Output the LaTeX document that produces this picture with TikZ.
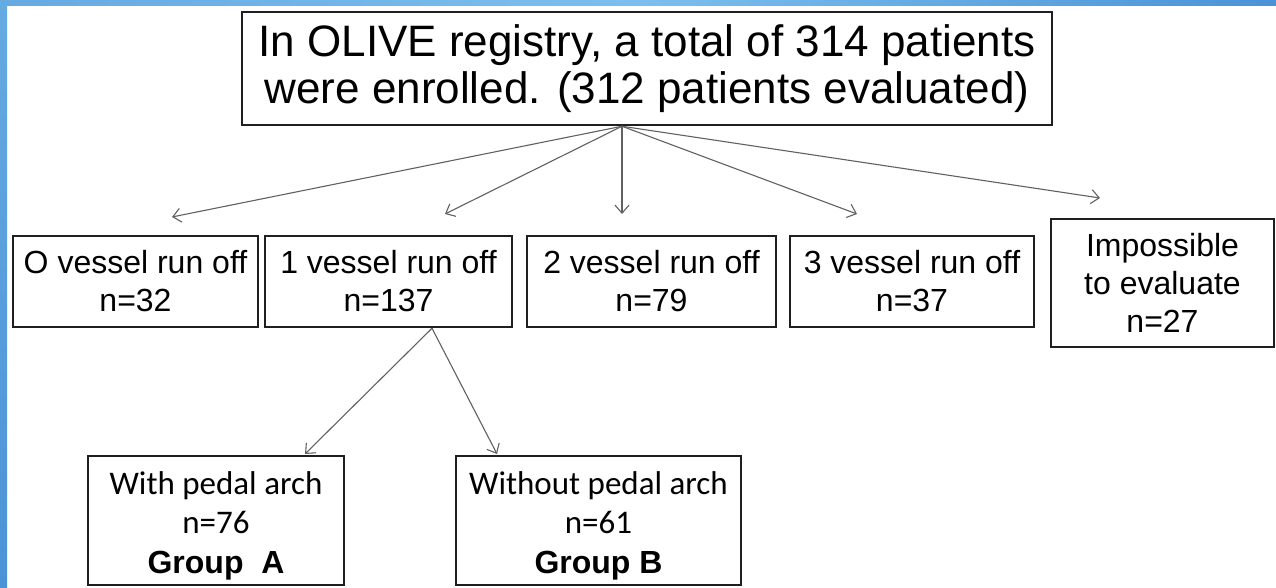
\documentclass[tikz,border=0pt]{standalone}
\usepackage{fontspec}
\setmainfont{Liberation Sans}
\newfontfamily\calfont{Carlito}
\usetikzlibrary{arrows.meta,calc}
\definecolor{bluelight}{HTML}{7CBFEE}
\definecolor{bluemid}{HTML}{66AAE2}
\definecolor{bluedark}{HTML}{4A93D7}
\begin{document}
\begin{tikzpicture}[x=1pt,y=-1pt,
  box/.style={draw=black!88,line width=2.5pt,inner sep=0pt,align=center,fill=white},
  arr/.style={draw=black!62,line width=1.1pt,-{Straight Barb[length=8pt,width=14pt,line width=1.1pt]}},
  rowfont/.style={font=\fontsize{32}{38}\selectfont},
  botfont/.style={font=\calfont\fontsize{33}{39.5}\selectfont}]
\useasboundingbox (0,0) rectangle (1276,588);
\fill[white] (0,0) rectangle (1276,588);
% blue frame
\shade[left color=bluemid, right color=bluedark, middle color=bluelight] (0,0) rectangle (1276,6);
\shade[top color=bluemid, bottom color=bluedark] (0,0) rectangle (7,588);

% top box
\node[box, minimum width=810pt, minimum height=113pt,
      font=\fontsize{44}{47}\selectfont] (top) at (647,68.5)
  {In OLIVE registry, a total of 314 patients\\were enrolled. (312 patients evaluated)};

% row boxes
\node[box, rowfont, minimum width=245pt, minimum height=91pt] (v0) at (135.5,281.5) {O vessel run off\\n=32};
\node[box, rowfont, minimum width=247pt, minimum height=91pt] (v1) at (388.5,281.5) {1 vessel run off\\n=137};
\node[box, rowfont, minimum width=249pt, minimum height=91pt] (v2) at (651.5,281.5) {2 vessel run off\\n=79};
\node[box, rowfont, minimum width=244pt, minimum height=91pt] (v3) at (912,281.5) {3 vessel run off\\n=37};
\node[box, rowfont, minimum width=223pt, minimum height=128pt] (imp) at (1162.5,283) {Impossible\\to evaluate\\n=27};

% bottom boxes
\node[box, botfont, minimum width=256pt, minimum height=129pt] (ga) at (216,520.5)
  {\rule{0pt}{33pt}With pedal arch\\n=76\\{\rmfamily\bfseries\fontsize{32}{39.5}\selectfont Group\ \ A}};
\node[box, botfont, minimum width=285pt, minimum height=129pt] (gb) at (598.5,520.5)
  {\rule{0pt}{33pt}Without pedal arch\\n=61\\{\rmfamily\bfseries\fontsize{32}{39.5}\selectfont Group B}};

% connector coordinates
\coordinate (ts) at ($(top.south)+(-25,0)$);
\coordinate (e0) at (172,217);
\coordinate (e1) at (445,214);
\coordinate (e2) at (622,214);
\coordinate (e3) at (857,214);
\coordinate (e4) at (1100,198);
\coordinate (bs) at ($(v1.south)+(43.5,0)$);
\coordinate (ea) at (305,454);
\coordinate (eb) at (497,454);

\draw[arr] (ts) -- (e0);
\draw[arr] (ts) -- (e1);
\draw[arr] (ts) -- (e2);
\draw[arr] (ts) -- (e3);
\draw[arr] (ts) -- (e4);
\draw[arr] (bs) -- (ea);
\draw[arr] (bs) -- (eb);
\end{tikzpicture}
\end{document}
